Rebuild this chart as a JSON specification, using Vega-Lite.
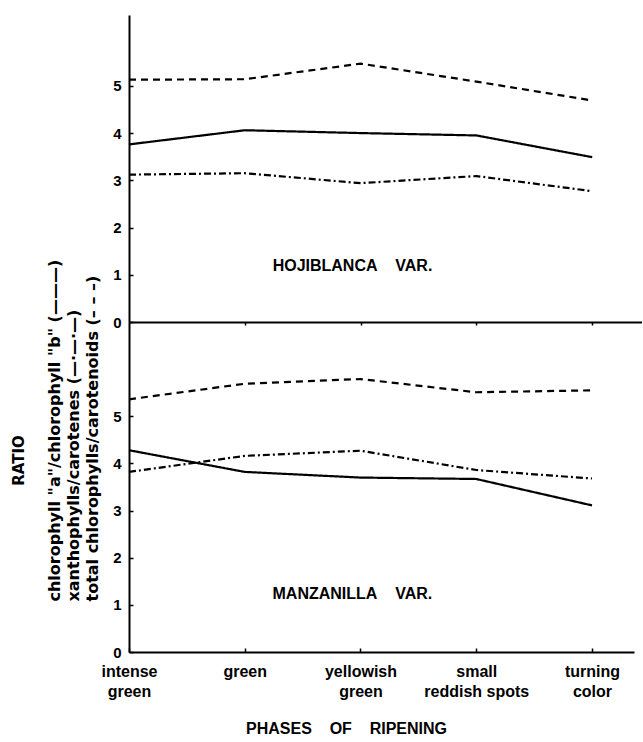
{
  "$schema": "https://vega.github.io/schema/vega-lite/v6.json",
  "background": "white",
  "padding": {"left": 11, "top": 15, "right": 0, "bottom": 4},
  "bounds": "flush",
  "spacing": 0,
  "config": {
    "view": {"stroke": null},
    "font": "Liberation Sans",
    "axis": {
      "grid": false,
      "domainColor": "black",
      "domainWidth": 2,
      "tickColor": "black",
      "tickWidth": 1.5,
      "labelColor": "black",
      "labelFont": "Liberation Sans",
      "labelFontWeight": "bold",
      "titleColor": "black",
      "labelOverlap": false,
      "labelBound": false,
      "labelFlush": false
    }
  },
  "resolve": {"scale": {"x": "independent", "y": "independent"}},
  "datasets": {
    "ratios": [
      {"variety": "Hojiblanca", "series": "total chlorophylls/carotenoids", "stage": 0, "ratio": 5.13},
      {"variety": "Hojiblanca", "series": "total chlorophylls/carotenoids", "stage": 1, "ratio": 5.14},
      {"variety": "Hojiblanca", "series": "total chlorophylls/carotenoids", "stage": 2, "ratio": 5.47},
      {"variety": "Hojiblanca", "series": "total chlorophylls/carotenoids", "stage": 3, "ratio": 5.09},
      {"variety": "Hojiblanca", "series": "total chlorophylls/carotenoids", "stage": 4, "ratio": 4.69},
      {"variety": "Hojiblanca", "series": "chlorophyll a/chlorophyll b", "stage": 0, "ratio": 3.76},
      {"variety": "Hojiblanca", "series": "chlorophyll a/chlorophyll b", "stage": 1, "ratio": 4.06},
      {"variety": "Hojiblanca", "series": "chlorophyll a/chlorophyll b", "stage": 2, "ratio": 4.0},
      {"variety": "Hojiblanca", "series": "chlorophyll a/chlorophyll b", "stage": 3, "ratio": 3.95},
      {"variety": "Hojiblanca", "series": "chlorophyll a/chlorophyll b", "stage": 4, "ratio": 3.49},
      {"variety": "Hojiblanca", "series": "xanthophylls/carotenes", "stage": 0, "ratio": 3.12},
      {"variety": "Hojiblanca", "series": "xanthophylls/carotenes", "stage": 1, "ratio": 3.15},
      {"variety": "Hojiblanca", "series": "xanthophylls/carotenes", "stage": 2, "ratio": 2.94},
      {"variety": "Hojiblanca", "series": "xanthophylls/carotenes", "stage": 3, "ratio": 3.09},
      {"variety": "Hojiblanca", "series": "xanthophylls/carotenes", "stage": 4, "ratio": 2.77},
      {"variety": "Manzanilla", "series": "total chlorophylls/carotenoids", "stage": 0, "ratio": 5.36},
      {"variety": "Manzanilla", "series": "total chlorophylls/carotenoids", "stage": 1, "ratio": 5.69},
      {"variety": "Manzanilla", "series": "total chlorophylls/carotenoids", "stage": 2, "ratio": 5.79},
      {"variety": "Manzanilla", "series": "total chlorophylls/carotenoids", "stage": 3, "ratio": 5.51},
      {"variety": "Manzanilla", "series": "total chlorophylls/carotenoids", "stage": 4, "ratio": 5.55},
      {"variety": "Manzanilla", "series": "chlorophyll a/chlorophyll b", "stage": 0, "ratio": 4.28},
      {"variety": "Manzanilla", "series": "chlorophyll a/chlorophyll b", "stage": 1, "ratio": 3.82},
      {"variety": "Manzanilla", "series": "chlorophyll a/chlorophyll b", "stage": 2, "ratio": 3.7},
      {"variety": "Manzanilla", "series": "chlorophyll a/chlorophyll b", "stage": 3, "ratio": 3.67},
      {"variety": "Manzanilla", "series": "chlorophyll a/chlorophyll b", "stage": 4, "ratio": 3.11},
      {"variety": "Manzanilla", "series": "xanthophylls/carotenes", "stage": 0, "ratio": 3.82},
      {"variety": "Manzanilla", "series": "xanthophylls/carotenes", "stage": 1, "ratio": 4.16},
      {"variety": "Manzanilla", "series": "xanthophylls/carotenes", "stage": 2, "ratio": 4.27},
      {"variety": "Manzanilla", "series": "xanthophylls/carotenes", "stage": 3, "ratio": 3.86},
      {"variety": "Manzanilla", "series": "xanthophylls/carotenes", "stage": 4, "ratio": 3.68}
    ],
    "varieties": [
      {"variety": "Hojiblanca", "label": "HOJIBLANCA\u00a0\u00a0\u00a0\u00a0VAR.", "stage": 1.93, "ratio": 1.19},
      {"variety": "Manzanilla", "label": "MANZANILLA\u00a0\u00a0\u00a0\u00a0VAR.", "stage": 1.93, "ratio": 1.23}
    ]
  },
  "vconcat": [
    {
      "width": 513,
      "height": 307,
      "layer": [
        {
          "data": {"name": "ratios"},
          "transform": [{"filter": "datum.variety === 'Hojiblanca'"}],
          "mark": {"type": "line", "color": "black", "strokeWidth": 2.2},
          "encoding": {
            "x": {
              "field": "stage", "type": "quantitative",
              "scale": {"domain": [0, 4.43], "nice": false, "zero": false},
              "axis": {"values": [1, 2, 3, 4], "labels": false, "tickSize": 3, "title": null}
            },
            "y": {
              "field": "ratio", "type": "quantitative",
              "scale": {"domain": [0, 6.5], "nice": false},
              "axis": {
                "values": [0, 1, 2, 3, 4, 5], "tickSize": -4, "labelPadding": 12, "labelFontSize": 15,
                "title": "RATIO", "titleFont": "DejaVu Sans", "titleFontWeight": "bold", "titleFontSize": 15,
                "titleAngle": -90, "titleX": -111, "titleY": 445, "titleAlign": "center", "titleBaseline": "middle"
              }
            },
            "strokeDash": {
              "field": "series", "type": "nominal",
              "scale": {
                "domain": ["chlorophyll a/chlorophyll b", "xanthophylls/carotenes", "total chlorophylls/carotenoids"],
                "range": [[1, 0], [7, 3, 2, 3], [7, 5]]
              },
              "legend": null
            }
          }
        },
        {
          "data": {"name": "varieties"},
          "transform": [{"filter": "datum.variety === 'Hojiblanca'"}],
          "mark": {"type": "text", "font": "Liberation Sans", "fontWeight": "bold", "fontSize": 16, "align": "center", "baseline": "middle", "color": "black"},
          "encoding": {
            "x": {"field": "stage", "type": "quantitative"},
            "y": {"field": "ratio", "type": "quantitative"},
            "text": {"field": "label"}
          }
        }
      ]
    },
    {
      "width": 505,
      "height": 330,
      "layer": [
        {
          "data": {"name": "ratios"},
          "transform": [{"filter": "datum.variety === 'Manzanilla'"}],
          "mark": {"type": "line", "color": "black", "strokeWidth": 2.2},
          "encoding": {
            "x": {
              "field": "stage", "type": "quantitative",
              "scale": {"domain": [0, 4.363], "nice": false, "zero": false},
              "axis": {
                "values": [0, 1, 2, 3, 4], "tickSize": -4, "labelPadding": 15,
                "labelFontSize": 16, "labelLineHeight": 20, "labelBaseline": "top",
                "labelExpr": "split(['intense|green', 'green', 'yellowish|green', 'small|reddish spots', 'turning|color'][datum.value], '|')",
                "title": "PHASES\u00a0\u00a0\u00a0\u00a0OF\u00a0\u00a0\u00a0\u00a0RIPENING",
                "titleFont": "Liberation Sans", "titleFontWeight": "bold", "titleFontSize": 16,
                "titleX": 217, "titleY": 76, "titleAlign": "center", "titleBaseline": "middle"
              }
            },
            "y": {
              "field": "ratio", "type": "quantitative",
              "scale": {"domain": [0, 7], "nice": false},
              "axis": {
                "values": [0, 1, 2, 3, 4, 5], "tickSize": -4, "labelPadding": 12, "labelFontSize": 15,
                "title": ["chlorophyll \"a\"/chlorophyll \"b\" (\u2014\u2014\u2014)", "xanthophylls/carotenes (\u2014\u00b7\u2014\u00b7\u2014)", "total chlorophylls/carotenoids (\u2013 \u2013 \u2013)"],
                "titleFont": "DejaVu Sans", "titleFontWeight": "bold", "titleFontSize": 16, "titleLineHeight": 19,
                "titleAngle": -90, "titleX": -75, "titleY": 279, "titleAlign": "left", "titleBaseline": "middle"
              }
            },
            "strokeDash": {
              "field": "series", "type": "nominal",
              "scale": {
                "domain": ["chlorophyll a/chlorophyll b", "xanthophylls/carotenes", "total chlorophylls/carotenoids"],
                "range": [[1, 0], [7, 3, 2, 3], [7, 5]]
              },
              "legend": null
            }
          }
        },
        {
          "data": {"name": "varieties"},
          "transform": [{"filter": "datum.variety === 'Manzanilla'"}],
          "mark": {"type": "text", "font": "Liberation Sans", "fontWeight": "bold", "fontSize": 16, "align": "center", "baseline": "middle", "color": "black"},
          "encoding": {
            "x": {"field": "stage", "type": "quantitative"},
            "y": {"field": "ratio", "type": "quantitative"},
            "text": {"field": "label"}
          }
        }
      ]
    }
  ]
}
